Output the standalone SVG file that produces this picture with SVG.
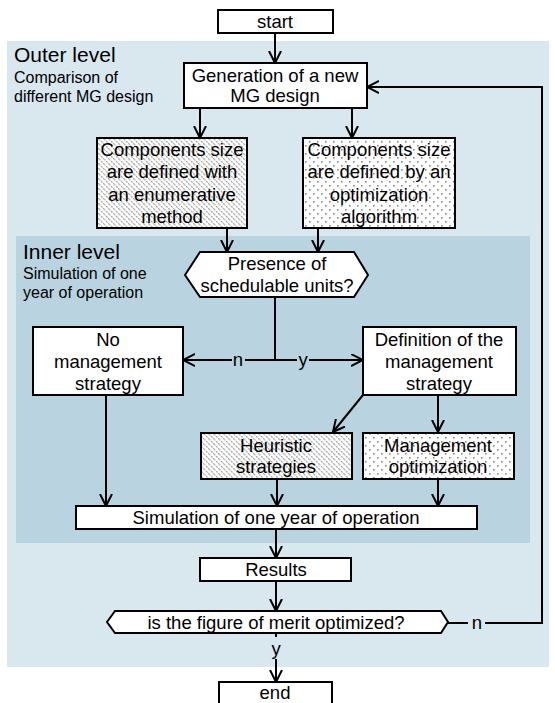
<svg xmlns="http://www.w3.org/2000/svg" width="555" height="703" viewBox="0 0 555 703">
<defs>
<style>
.bx{fill:#fff;stroke:#000;stroke-width:2}
.hat{fill:url(#hatch);stroke:#000;stroke-width:2}
.dot{fill:url(#dots);stroke:#000;stroke-width:2}
.t{font-family:"Liberation Sans",Arial,sans-serif;font-size:18.5px;fill:#000;text-anchor:middle}
.h{font-family:"Liberation Sans",Arial,sans-serif;font-size:21px;fill:#000}
.s{font-family:"Liberation Sans",Arial,sans-serif;font-size:16px;fill:#000}
.ln{fill:none;stroke:#000;stroke-width:2}
.ar{fill:none;stroke:#000;stroke-width:2;marker-end:url(#arr)}
</style>
<marker id="arr" markerUnits="userSpaceOnUse" markerWidth="14" markerHeight="14" refX="12" refY="6.5" orient="auto">
<path d="M0,0.5 L12,6.5 L0,12.5" fill="none" stroke="#000" stroke-width="2"/>
</marker>
<pattern id="hatch" patternUnits="userSpaceOnUse" width="5" height="5">
<rect width="5" height="5" fill="#fff"/>
<path d="M-1,-1 L6,6 M-1,4 L1,6 M4,-1 L6,1" stroke="#a3a3a3" stroke-width="1.2" stroke-dasharray="2,1"/>
</pattern>
<pattern id="dots" patternUnits="userSpaceOnUse" width="8" height="8">
<rect width="8" height="8" fill="#fff"/>
<rect x="1" y="1" width="1.6" height="1.6" fill="#8a8a8a"/>
<rect x="5" y="5" width="1.6" height="1.6" fill="#8a8a8a"/>
</pattern>
</defs>
<rect width="555" height="703" fill="#fff"/>
<g id="outer-level">
<rect x="7" y="41" width="542" height="626" fill="#d9e7ef"/>
<text class="h" x="14" y="62">Outer level</text>
<text class="s" x="14" y="83">Comparison of</text>
<text class="s" x="14" y="102">different MG design</text>
</g>
<g id="inner-level">
<rect x="16" y="236" width="514" height="307" fill="#b9d4e0"/>
<text class="h" x="23" y="259">Inner level</text>
<text class="s" x="23" y="279">Simulation of one</text>
<text class="s" x="23" y="298">year of operation</text>
</g>
<g id="connectors">
<path class="ar" d="M275,33 V63"/>
<path class="ar" d="M200,108 V138"/>
<path class="ar" d="M352,108 V138"/>
<path class="ar" d="M227,228 V252"/>
<path class="ar" d="M318,228 V252"/>
<path class="ln" d="M275,297 V360"/>
<path class="ln" d="M275,360 H245"/>
<path class="ar" d="M232,360 H183"/>
<path class="ln" d="M275,360 H297"/>
<path class="ar" d="M309,360 H363"/>
<path class="ar" d="M363,395 L333,432"/>
<path class="ar" d="M438,395 V432"/>
<path class="ar" d="M106,395 V506"/>
<path class="ar" d="M277,479 V506"/>
<path class="ar" d="M438,479 V506"/>
<path class="ar" d="M276,529 V558"/>
<path class="ar" d="M276,581 V611"/>
<path class="ln" d="M276,633 V637"/>
<path class="ar" d="M276,659 V682"/>
<path class="ln" d="M448,623 H468"/>
<path class="ar" d="M485,623 H542 V87 H367"/>
<text class="t" x="238" y="366">n</text>
<text class="t" x="303" y="366">y</text>
<text class="t" x="477" y="629">n</text>
<text class="t" x="276" y="655">y</text>
</g>
<g id="start">
<rect class="bx" x="218" y="10" width="115" height="23"/>
<text class="t" x="275" y="28">start</text>
</g>
<g id="generation">
<rect class="bx" x="184" y="63" width="183" height="45"/>
<text class="t" x="275" y="82">Generation of a new</text>
<text class="t" x="275" y="102">MG design</text>
</g>
<g id="enumerative">
<rect class="hat" x="97" y="138" width="150" height="90"/>
<text class="t" x="172" y="156">Components size</text>
<text class="t" x="172" y="178">are defined with</text>
<text class="t" x="172" y="201">an enumerative</text>
<text class="t" x="172" y="223">method</text>
</g>
<g id="optimization-algorithm">
<rect class="dot" x="303" y="138" width="152" height="90"/>
<text class="t" x="379" y="156">Components size</text>
<text class="t" x="379" y="178">are defined by an</text>
<text class="t" x="379" y="201">optimization</text>
<text class="t" x="379" y="223">algorithm</text>
</g>
<g id="presence">
<polygon class="bx" points="185,275 200,252 354,252 368,275 354,297 200,297"/>
<text class="t" x="277" y="270">Presence of</text>
<text class="t" x="277" y="292">schedulable units?</text>
</g>
<g id="no-management">
<rect class="bx" x="33" y="327" width="150" height="68"/>
<text class="t" x="108" y="346">No</text>
<text class="t" x="108" y="368">management</text>
<text class="t" x="108" y="390">strategy</text>
</g>
<g id="definition">
<rect class="bx" x="363" y="327" width="153" height="68"/>
<text class="t" x="439" y="346">Definition of the</text>
<text class="t" x="439" y="368">management</text>
<text class="t" x="439" y="390">strategy</text>
</g>
<g id="heuristic">
<rect class="hat" x="201" y="433" width="151" height="46"/>
<text class="t" x="276" y="452">Heuristic</text>
<text class="t" x="276" y="473">strategies</text>
</g>
<g id="management-optimization">
<rect class="dot" x="363" y="433" width="151" height="46"/>
<text class="t" x="438" y="452">Management</text>
<text class="t" x="438" y="473">optimization</text>
</g>
<g id="simulation">
<rect class="bx" x="76" y="506" width="401" height="23"/>
<text class="t" x="276" y="524">Simulation of one year of operation</text>
</g>
<g id="results">
<rect class="bx" x="200" y="558" width="151" height="23"/>
<text class="t" x="276" y="576">Results</text>
</g>
<g id="figure-of-merit">
<polygon class="bx" points="107,622 115,611 441,611 448,622 441,633 115,633"/>
<text class="t" x="276" y="629">is the figure of merit optimized?</text>
</g>
<g id="end">
<rect class="bx" x="219" y="682" width="113" height="24"/>
<text class="t" x="275" y="699">end</text>
</g>
</svg>
